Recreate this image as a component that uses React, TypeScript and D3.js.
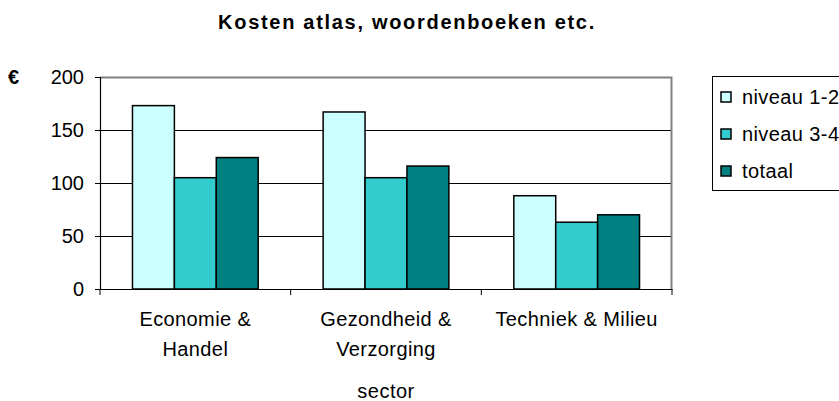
import React, { useRef, useEffect } from "react";
import * as d3 from "d3";

const title = "Kosten atlas, woordenboeken etc.";
const categories = ["Economie & Handel", "Gezondheid & Verzorging", "Techniek & Milieu"];
const categoryLines = [["Economie &", "Handel"], ["Gezondheid &", "Verzorging"], ["Techniek & Milieu"]];
const series = ["niveau 1-2", "niveau 3-4", "totaal"];
const colors = ["#CCFFFF", "#33CCCC", "#008080"];
const niveau12 = [173, 167, 88];
const niveau34 = [105, 105, 63];
const totaal = [124, 116, 70];
const yTicks = [0, 50, 100, 150, 200];
const xAxisLabel = "sector";
const yAxisLabel = "€";

const W = 839;
const H = 401;
const FONT = "'Liberation Sans', Arial, sans-serif";

const App = () => {
  const svgRef = useRef<SVGSVGElement>(null);

  useEffect(() => {
    const svg = d3.select(svgRef.current);
    svg.selectAll("*").remove();

    const margin = { top: 77, right: 167, bottom: 112, left: 100 };
    const innerWidth = W - margin.left - margin.right;
    const innerHeight = H - margin.top - margin.bottom;

    const values = [niveau12, niveau34, totaal];
    const data = categories.map((c, i) => ({
      cat: c,
      vals: series.map((s, j) => ({ s, v: values[j][i], color: colors[j] })),
    }));

    const x = d3.scaleBand().domain(categories).range([0, innerWidth]);
    const xSub = d3
      .scaleBand()
      .domain(series)
      .range([0, x.bandwidth()])
      .paddingInner(0)
      .paddingOuter(0.775);
    const y = d3.scaleLinear().domain([0, 200]).range([innerHeight, 0]);

    // title
    svg
      .append("text")
      .attr("x", 407)
      .attr("y", 29)
      .attr("text-anchor", "middle")
      .attr("font-family", FONT)
      .attr("font-weight", "bold")
      .attr("font-size", 20)
      .attr("letter-spacing", 1.7)
      .attr("fill", "#000")
      .text(title);

    const g = svg.append("g").attr("transform", `translate(${margin.left},${margin.top})`);

    // gridlines
    g.selectAll(".grid")
      .data(yTicks.filter(t => t > 0 && t < 200))
      .enter()
      .append("line")
      .attr("x1", 0)
      .attr("x2", innerWidth)
      .attr("y1", d => Math.round(y(d)) + 0.5)
      .attr("y2", d => Math.round(y(d)) + 0.5)
      .attr("stroke", "#000")
      .attr("stroke-width", 1);

    // plot border top / right
    g.append("path")
      .attr("d", `M0,0.5H${innerWidth - 0.5}V${innerHeight}`)
      .attr("fill", "none")
      .attr("stroke", "#808080")
      .attr("stroke-width", 2);

    // bars
    const groups = g
      .selectAll(".cat")
      .data(data)
      .enter()
      .append("g")
      .attr("transform", d => `translate(${x(d.cat)},0)`);

    groups
      .selectAll("rect")
      .data(d => d.vals)
      .enter()
      .append("rect")
      .attr("x", d => xSub(d.s)!)
      .attr("width", xSub.bandwidth())
      .attr("y", d => y(d.v))
      .attr("height", d => innerHeight - y(d.v))
      .attr("fill", d => d.color)
      .attr("stroke", "#000")
      .attr("stroke-width", 1.5);

    // y axis
    const yAxis = d3.axisLeft(y).tickValues(yTicks).tickSize(5).tickPadding(11);
    const yAxisG = g.append("g").call(yAxis);
    yAxisG.select(".domain").attr("stroke", "#000").attr("stroke-width", 1.2);
    yAxisG.selectAll(".tick line").attr("stroke", "#000");
    yAxisG
      .selectAll(".tick text")
      .attr("font-family", FONT)
      .attr("font-size", 20)
      .attr("fill", "#000");
    yAxisG
      .append("text")
      .attr("x", -81)
      .attr("y", 7)
      .attr("font-family", FONT)
      .attr("font-weight", "bold")
      .attr("font-size", 20)
      .attr("fill", "#000")
      .text(yAxisLabel);

    // x axis
    const xAxis = d3.axisBottom(x).tickValues([]).tickSize(0);
    const xAxisG = g.append("g").attr("transform", `translate(0,${innerHeight})`).call(xAxis);
    xAxisG.select(".domain").attr("stroke", "#000").attr("stroke-width", 1.2);
    xAxisG
      .selectAll(".xtick")
      .data([0, ...categories.map(c => x(c)! + x.bandwidth())])
      .enter()
      .append("line")
      .attr("x1", d => d)
      .attr("x2", d => d)
      .attr("y1", 0)
      .attr("y2", 6)
      .attr("stroke", "#000");

    const labels = xAxisG
      .selectAll(".xlab")
      .data(categories.map((c, i) => ({ c, lines: categoryLines[i] })))
      .enter()
      .append("text")
      .attr("text-anchor", "middle")
      .attr("font-family", FONT)
      .attr("font-size", 20)
      .attr("letter-spacing", 0.4)
      .attr("fill", "#000")
      .attr("transform", d => `translate(${x(d.c)! + x.bandwidth() / 2},${37})`);
    labels
      .selectAll("tspan")
      .data(d => d.lines)
      .enter()
      .append("tspan")
      .attr("x", 0)
      .attr("dy", (d, i) => (i === 0 ? 0 : 30))
      .text(d => d);

    xAxisG
      .append("text")
      .attr("x", innerWidth / 2)
      .attr("y", 109)
      .attr("text-anchor", "middle")
      .attr("font-family", FONT)
      .attr("font-size", 20)
      .attr("letter-spacing", 0.5)
      .attr("fill", "#000")
      .text(xAxisLabel);

    // legend
    const lg = svg.append("g").attr("transform", "translate(712,76)");
    lg.append("rect")
      .attr("x", 0.5)
      .attr("y", 0.5)
      .attr("width", 200)
      .attr("height", 114)
      .attr("fill", "#fff")
      .attr("stroke", "#000")
      .attr("stroke-width", 1);
    const items = lg
      .selectAll(".item")
      .data(series)
      .enter()
      .append("g")
      .attr("transform", (d, i) => `translate(9,${21 + i * 37})`);
    items
      .append("rect")
      .attr("x", 0)
      .attr("y", -5)
      .attr("width", 10)
      .attr("height", 10)
      .attr("fill", (d, i) => colors[i])
      .attr("stroke", "#000")
      .attr("stroke-width", 1.5);
    items
      .append("text")
      .attr("x", 21)
      .attr("y", 7)
      .attr("font-family", FONT)
      .attr("font-size", 20)
      .attr("letter-spacing", 0.4)
      .attr("fill", "#000")
      .text(d => d);
  }, []);

  return (
    <svg
      ref={svgRef}
      width={W}
      height={H}
      style={{ position: "absolute", left: 0, top: 0, background: "#fff" }}
    />
  );
};

export default App;
